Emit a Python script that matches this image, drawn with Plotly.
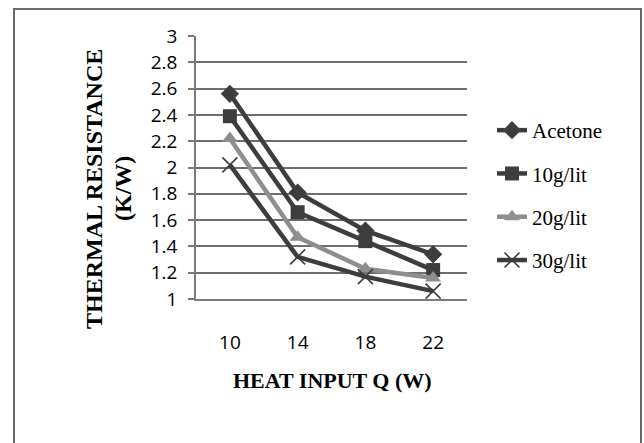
import plotly.graph_objects as go

heat_input = ["10", "14", "18", "22"]
acetone = [2.56, 1.81, 1.52, 1.34]
g10 = [2.39, 1.66, 1.44, 1.22]
g20 = [2.22, 1.47, 1.23, 1.16]
g30 = [2.02, 1.32, 1.17, 1.06]
y_ticks = [1, 1.2, 1.4, 1.6, 1.8, 2, 2.2, 2.4, 2.6, 2.8, 3]
y_tick_text = ["1", "1.2", "1.4", "1.6", "1.8", "2", "2.2", "2.4", "2.6", "2.8", "3"]

dark = "#3d3d3d"
gray = "#8e8e8e"

series = [
    ("Acetone", acetone, dark, dict(symbol="diamond", size=14, color=dark)),
    ("10g/lit", g10, dark, dict(symbol="square", size=14, color=dark)),
    ("20g/lit", g20, gray, dict(symbol="triangle-up", size=14, color=gray)),
    ("30g/lit", g30, dark, dict(symbol="x-thin", size=15, color=dark,
                                line=dict(width=1.6, color=dark))),
]

fig = go.Figure()
for i, (name, vals, col, mk) in enumerate(series):
    fig.add_trace(go.Scatter(
        x=heat_input, y=vals, name=name, mode="lines+markers",
        line=dict(color=col, width=4.5), marker=mk, legendgroup=f"g{i}",
    ))

W, H = 644, 443
L, R, T, B = 196, 644 - 467, 36, 443 - 299
pw, ph = W - L - R, H - T - B

def px_x(x):
    return (x - L) / pw

def px_y(y):
    return (H - B - y) / ph

fig.update_layout(
    width=W, height=H,
    margin=dict(l=L, r=R, t=T, b=B, autoexpand=False),
    paper_bgcolor="white", plot_bgcolor="white",
    showlegend=True,
    legend=dict(
        x=px_x(492), y=px_y(110), xanchor="left", yanchor="top",
        font=dict(family="Liberation Serif", size=21, color="black"),
        tracegroupgap=13, bgcolor="rgba(0,0,0,0)", itemwidth=30,
    ),
    xaxis=dict(
        type="category", range=[-0.5, 3.5],
        showgrid=False, showline=True, linecolor="#7a7a7a", linewidth=1.5,
        ticks="", ticklabelstandoff=25,
        tickfont=dict(family="Open Sans", size=19, color="black"),
    ),
    yaxis=dict(
        range=[1, 3], tickvals=y_ticks, ticktext=y_tick_text,
        showgrid=True, gridcolor="#6e6e6e", gridwidth=1.5,
        showline=True, linecolor="#7a7a7a", linewidth=1.5,
        ticks="outside", ticklen=6, tickcolor="#7a7a7a", tickwidth=1.5,
        ticklabelstandoff=7, zeroline=False,
        tickfont=dict(family="Open Sans", size=19, color="black"),
    ),
    annotations=[
        dict(text="<b>HEAT INPUT Q (W)</b>", xref="paper", yref="paper",
             x=px_x(332), y=px_y(380), xanchor="center", yanchor="middle",
             showarrow=False,
             font=dict(family="Liberation Serif", size=22, color="black")),
        dict(text="<b>THERMAL RESISTANCE</b>", xref="paper", yref="paper",
             x=px_x(94), y=px_y(189), xanchor="center", yanchor="middle",
             showarrow=False, textangle=-90,
             font=dict(family="Liberation Serif", size=24, color="black")),
        dict(text="<b>(K/W)</b>", xref="paper", yref="paper",
             x=px_x(123), y=px_y(189), xanchor="center", yanchor="middle",
             showarrow=False, textangle=-90,
             font=dict(family="Liberation Serif", size=24, color="black")),
    ],
    shapes=[
        dict(type="rect", xref="paper", yref="paper",
             x0=px_x(14), x1=px_x(641), y0=px_y(447), y1=px_y(9),
             line=dict(color="#6a6a6a", width=2), fillcolor="rgba(0,0,0,0)",
             layer="below"),
    ],
)

fig.write_html("out.html",
               config={"displayModeBar": False},
               post_script="document.body.style.margin='0';document.body.style.overflow='hidden';")
